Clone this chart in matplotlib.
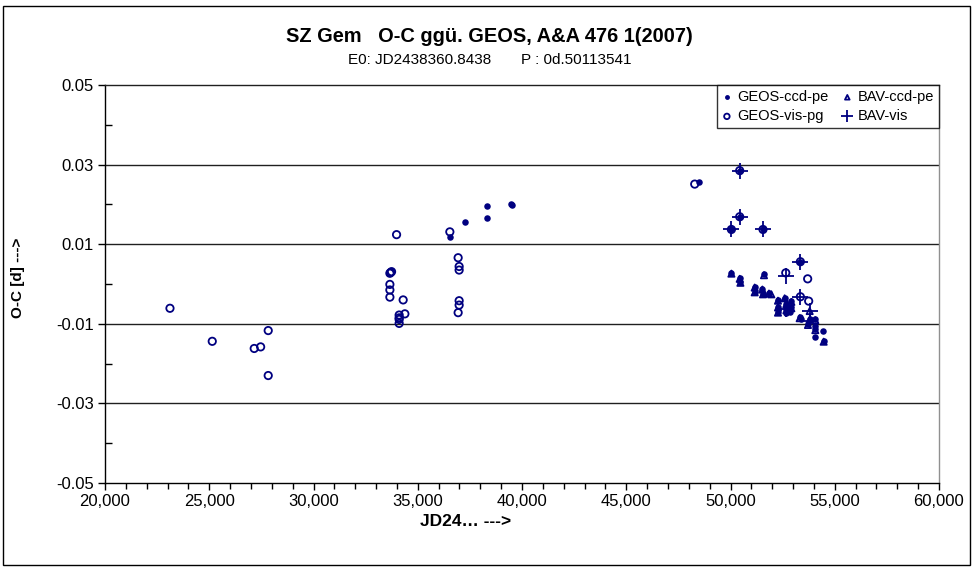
import matplotlib
matplotlib.use("Agg")
import matplotlib.pyplot as plt
from matplotlib.ticker import MultipleLocator, FuncFormatter
from matplotlib.patches import Rectangle

# ---- data ----
geos_vis_x = [23116, 25144, 27157, 27464, 27828, 27828,
              33984, 36539,
              33663, 33744, 33700, 33663, 33663, 33663,
              34300, 34382, 34108, 34108, 34108, 34108,
              36937, 36985, 36985, 36985, 36985, 36937,
              48284, 50441, 50441, 50043, 51558, 53351, 52650, 53701, 53351, 53749]
geos_vis_y = [-0.0061, -0.0144, -0.0162, -0.0158, -0.0117, -0.0230,
              0.0124, 0.0131,
              0.0027, 0.0031, 0.0029, -0.0001, -0.0015, -0.0033,
              -0.0040, -0.0075, -0.0078, -0.0089, -0.0099, -0.0085,
              0.0066, 0.0044, 0.0035, -0.0042, -0.0053, -0.0072,
              0.0251, 0.0285, 0.0169, 0.0137, 0.0137, 0.0056, 0.0028, 0.0013, -0.0032, -0.0043]

geos_ccd_x = [36539, 37272, 38298, 38298, 39449, 39511, 48476,
              50441, 50441, 50043, 51558, 53351,
              50043, 50441, 50474, 51606, 51160, 51160, 51529, 51558, 51846,
              52277, 52277, 52277, 52598, 52679, 52679, 52679, 52919, 52919, 52838,
              53317, 53396, 53797, 54068, 53715, 54068, 54068, 54434, 54036, 54468]
geos_ccd_y = [0.0119, 0.0157, 0.0196, 0.0165, 0.0202, 0.0199, 0.0257,
              0.0285, 0.0169, 0.0137, 0.0137, 0.0056,
              0.0028, 0.0016, 0.0005, 0.0024, -0.0007, -0.0019, -0.0012, -0.0024, -0.0022,
              -0.0040, -0.0057, -0.0070, -0.0034, -0.0049, -0.0062, -0.0072, -0.0043, -0.0059, -0.0071,
              -0.0084, -0.0089, -0.0087, -0.0089, -0.0101, -0.0105, -0.0114, -0.0118, -0.0134, -0.0143]

bav_ccd_x = [50043, 50441, 50474, 51606, 51160, 51160, 51529, 51558, 51846, 51958,
             52277, 52277, 52277, 52598, 52679, 52679, 52919, 52919,
             53317, 53797, 53797, 54068, 53715, 54068, 54468]
bav_ccd_y = [0.0026, 0.0013, 0.0003, 0.0022, -0.0009, -0.0021, -0.0014, -0.0026, -0.0024, -0.0026,
             -0.0042, -0.0059, -0.0072, -0.0036, -0.0051, -0.0066, -0.0045, -0.0061,
             -0.0086, -0.0068, -0.0090, -0.0091, -0.0103, -0.0116, -0.0145]

bav_vis_x = [50441, 50441, 50043, 51558, 53351, 52650, 53351, 53797, 52679, 53797]
bav_vis_y = [0.0285, 0.0169, 0.0137, 0.0137, 0.0056, 0.0020, -0.0032, -0.0068, -0.0064, -0.0094]

title = "SZ Gem   O-C ggü. GEOS, A&A 476 1(2007)"
subtitle = "E0: JD2438360.8438       P : 0d.50113541"
xlabel = "JD24… --->"
ylabel = "O-C [d] --->"

navy = "#000080"
plt.rcParams['font.family'] = ['Liberation Sans', 'DejaVu Sans']

W, H = 974, 568
fig = plt.figure(figsize=(W / 100, H / 100), dpi=100)
fig.patch.set_facecolor("white")
fig.patches.append(Rectangle((3 / W, 1 - 565 / H), (970 - 3) / W, (565 - 6) / H,
                             transform=fig.transFigure, fill=False, edgecolor="black",
                             linewidth=1.0))

ax = fig.add_axes([105 / W, 1 - 483 / H, (939 - 105) / W, (483 - 85) / H])
ax.set_xlim(20000, 60000)
ax.set_ylim(-0.05, 0.05)

ax.set_yticks([0.05, 0.03, 0.01, -0.01, -0.03, -0.05])
ax.set_yticks([0.04, 0.02, 0.0, -0.02, -0.04], minor=True)
ax.xaxis.set_major_locator(MultipleLocator(5000))
ax.xaxis.set_minor_locator(MultipleLocator(1000))
ax.xaxis.set_major_formatter(FuncFormatter(lambda v, p: f"{int(round(v)):,}"))
ax.yaxis.set_major_formatter(FuncFormatter(lambda v, p: f"{v:.2f}"))

ax.tick_params(axis='both', which='major', direction='out', length=5, width=1,
               labelsize=12, color='black', pad=3)
ax.tick_params(axis='y', which='minor', direction='in', length=5, width=1, color='black')
ax.tick_params(axis='x', which='minor', direction='out', length=4, width=1, color='black')

for yv in [0.03, 0.01, -0.01, -0.03]:
    ax.axhline(yv, color='#202020', linewidth=1.0, zorder=1)

ax.spines['left'].set_color('black')
ax.spines['bottom'].set_color('black')
ax.spines['top'].set_color('#202020')
ax.spines['right'].set_color('#909090')
for s in ax.spines.values():
    s.set_linewidth(1.0)

ax.scatter(geos_ccd_x, geos_ccd_y, s=22, marker='o', color=navy, zorder=3,
           label='GEOS-ccd-pe', linewidths=0)
ax.scatter(geos_vis_x, geos_vis_y, s=28, marker='o', facecolors='none',
           edgecolors=navy, linewidths=1.3, zorder=3, label='GEOS-vis-pg')
ax.scatter(bav_ccd_x, bav_ccd_y, s=20, marker='^', facecolors='none',
           edgecolors=navy, linewidths=1.3, zorder=3, label='BAV-ccd-pe')
ax.scatter(bav_vis_x, bav_vis_y, s=120, marker='+', color=navy, linewidths=1.3,
           zorder=4, label='BAV-vis')

leg = ax.legend(ncol=2, loc='upper right', bbox_to_anchor=(1.0, 1.0),
                borderaxespad=0, frameon=True, fancybox=False, fontsize=10.5,
                handlelength=0.6, handletextpad=0.4, columnspacing=1.0,
                borderpad=0.35, labelspacing=0.35, markerscale=0.75)
leg.get_frame().set_edgecolor('black')
leg.get_frame().set_linewidth(1.0)

fig.text(489 / W, 1 - 36 / H, title, ha='center', va='center',
         fontsize=14.4, fontweight='bold')
fig.text(490 / W, 1 - 60 / H, subtitle, ha='center', va='center', fontsize=11)
fig.text(466 / W, 1 - 521 / H, xlabel, ha='center', va='center',
         fontsize=12.5, fontweight='bold')
fig.text(18 / W, 1 - 278 / H, ylabel, ha='center', va='center', rotation=90,
         fontsize=11, fontweight='bold')

fig.savefig("out.png", dpi=100)
